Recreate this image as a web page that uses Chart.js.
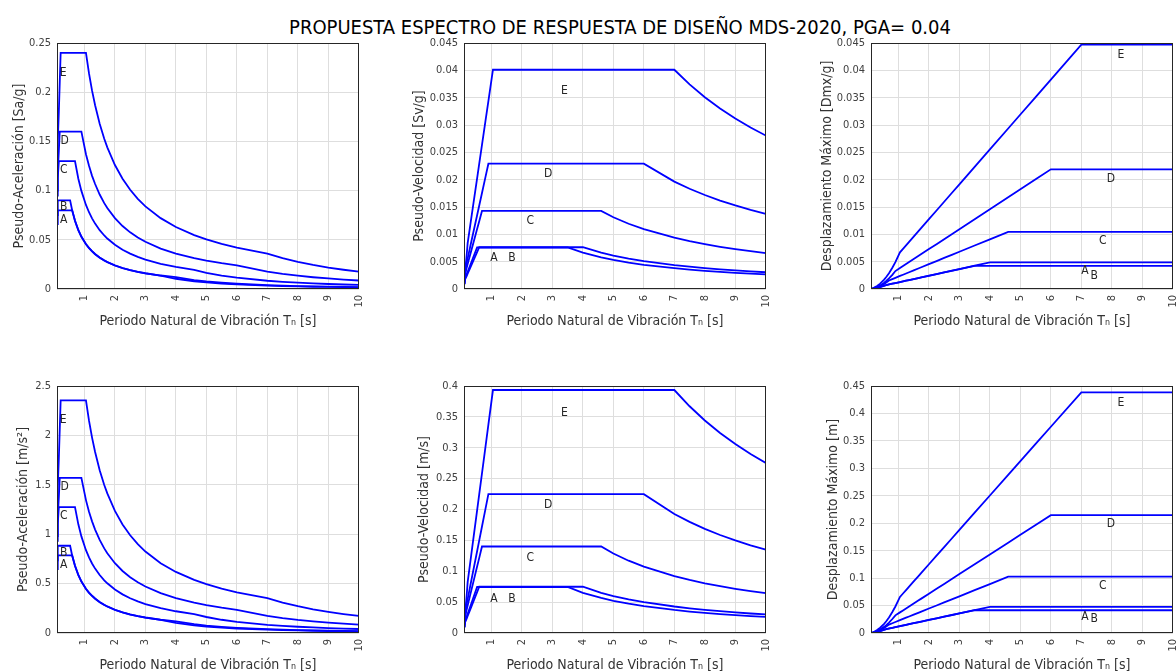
<!DOCTYPE html>
<html>
<head>
<meta charset="utf-8">
<script src="https://cdn.jsdelivr.net/npm/chart.js@4.4.1/dist/chart.umd.min.js"></script>
<style>
  html, body { margin: 0; padding: 0; background: #fff; }
  body { width: 1176px; height: 671px; overflow: hidden; position: relative; }
  canvas { position: absolute; }
  #title {
    position: absolute; left: 0; top: 15px; width: 1240px; text-align: center;
    font-family: 'Liberation Sans Narrow', 'DejaVu Sans Condensed', 'Arial Narrow', Roboto, sans-serif;
    font-size: 20px; color: #000; white-space: nowrap;
  }
</style>
</head>
<body>
<div id="title">PROPUESTA ESPECTRO DE RESPUESTA DE DISEÑO MDS-2020, PGA= 0.04</div>
<script>
// periodos T [s], compartidos por todas las curvas
const periods = [0.1, 0.12, 0.13, 0.16, 0.19, 0.22, 0.3, 0.4, 0.53, 0.6, 0.69, 0.8, 0.9, 1.05, 1.15, 1.25, 1.35, 1.5, 1.65, 1.75, 2, 2.25, 2.5, 2.75, 3, 3.5, 4, 4.6, 5, 5.5, 6, 7, 7.5, 8, 8.5, 9, 9.5, 10]
const soils = ['A', 'B', 'C', 'D', 'E']

// Pseudo-aceleracion [Sa/g]
const sagA = [0.066, 0.08, 0.08, 0.08, 0.08, 0.08, 0.08, 0.08, 0.08, 0.08, 0.0696, 0.06, 0.0533, 0.0457, 0.04174, 0.0384, 0.03556, 0.032, 0.02909, 0.0274, 0.024, 0.02133, 0.0192, 0.01745, 0.016, 0.0137, 0.012, 0.00907, 0.00768, 0.00635, 0.00533, 0.00392, 0.003413, 0.003, 0.002657, 0.00237, 0.002127, 0.00192]
const sagB = [0.075, 0.085, 0.09, 0.09, 0.09, 0.09, 0.09, 0.09, 0.09, 0.0795, 0.0691, 0.0596, 0.053, 0.0454, 0.04148, 0.0382, 0.03533, 0.0318, 0.02891, 0.0273, 0.0239, 0.0212, 0.0191, 0.01735, 0.0159, 0.0136, 0.0104, 0.00789, 0.00668, 0.00552, 0.00464, 0.00341, 0.002968, 0.00261, 0.002311, 0.00206, 0.00185, 0.00167]
const sagC = [0.095, 0.107, 0.1125, 0.13, 0.13, 0.13, 0.13, 0.13, 0.13, 0.13, 0.13, 0.1121, 0.0997, 0.0854, 0.078, 0.0718, 0.06644, 0.0598, 0.05436, 0.0513, 0.0449, 0.03987, 0.0359, 0.03262, 0.0299, 0.0256, 0.0224, 0.0195, 0.0165, 0.0136, 0.0115, 0.0084, 0.007335, 0.00645, 0.005711, 0.0051, 0.004572, 0.00413]
const sagD = [0.1, 0.113, 0.12, 0.14, 0.16, 0.16, 0.16, 0.16, 0.16, 0.16, 0.16, 0.16, 0.16, 0.137, 0.1252, 0.115, 0.1067, 0.096, 0.08727, 0.0823, 0.072, 0.064, 0.0576, 0.05236, 0.048, 0.0411, 0.036, 0.0313, 0.0288, 0.0262, 0.024, 0.0176, 0.01536, 0.0135, 0.01196, 0.0107, 0.009573, 0.00864]
const sagE = [0.12, 0.14, 0.15, 0.18, 0.21, 0.24, 0.24, 0.24, 0.24, 0.24, 0.24, 0.24, 0.24, 0.24, 0.2191, 0.2016, 0.1867, 0.168, 0.1527, 0.144, 0.126, 0.112, 0.1008, 0.09164, 0.084, 0.072, 0.063, 0.0548, 0.0504, 0.0458, 0.042, 0.036, 0.03136, 0.0276, 0.02441, 0.0218, 0.01955, 0.0176]

// Pseudo-velocidad [Sv/g]
const svgA = [0.00105, 0.00153, 0.00166, 0.00204, 0.00242, 0.0028, 0.00382, 0.00509, 0.00675, 0.00764, 0.00764, 0.00764, 0.00764, 0.00764, 0.00764, 0.00764, 0.00764, 0.00764, 0.00764, 0.00764, 0.00764, 0.00764, 0.00764, 0.00764, 0.00764, 0.00764, 0.00764, 0.00664, 0.00611, 0.00556, 0.00509, 0.00437, 0.004074, 0.00382, 0.003595, 0.0034, 0.003217, 0.00306]
const svgB = [0.00119, 0.00163, 0.00186, 0.00229, 0.00272, 0.00315, 0.0043, 0.00573, 0.00759, 0.00759, 0.00759, 0.00759, 0.00759, 0.00759, 0.00759, 0.00759, 0.00759, 0.00759, 0.00759, 0.00759, 0.00759, 0.00759, 0.00759, 0.00759, 0.00759, 0.00759, 0.00664, 0.00578, 0.00531, 0.00483, 0.00443, 0.0038, 0.003543, 0.00332, 0.003126, 0.00295, 0.002797, 0.00266]
const svgC = [0.00151, 0.00204, 0.00233, 0.00331, 0.00393, 0.00455, 0.00621, 0.00828, 0.01097, 0.01241, 0.01428, 0.01428, 0.01428, 0.01428, 0.01428, 0.01428, 0.01428, 0.01428, 0.01428, 0.01428, 0.01428, 0.01428, 0.01428, 0.01428, 0.01428, 0.01428, 0.01428, 0.01428, 0.01313, 0.01194, 0.01095, 0.00938, 0.008756, 0.00821, 0.007726, 0.0073, 0.006913, 0.00657]
const svgD = [0.00159, 0.00216, 0.00248, 0.00357, 0.00484, 0.0056, 0.00764, 0.01019, 0.0135, 0.01528, 0.01757, 0.02037, 0.02292, 0.02292, 0.02292, 0.02292, 0.02292, 0.02292, 0.02292, 0.02292, 0.02292, 0.02292, 0.02292, 0.02292, 0.02292, 0.02292, 0.02292, 0.02292, 0.02292, 0.02292, 0.02292, 0.01964, 0.018335, 0.01719, 0.016178, 0.01528, 0.014475, 0.01375]
const svgE = [0.00191, 0.00267, 0.0031, 0.00458, 0.00635, 0.0084, 0.01146, 0.01528, 0.02024, 0.02292, 0.02636, 0.03056, 0.03438, 0.04011, 0.04011, 0.04011, 0.04011, 0.04011, 0.04011, 0.04011, 0.04011, 0.04011, 0.04011, 0.04011, 0.04011, 0.04011, 0.04011, 0.04011, 0.04011, 0.04011, 0.04011, 0.04011, 0.037433, 0.03509, 0.03303, 0.03119, 0.029553, 0.02807]

// Desplazamiento maximo [Dmx/g]
const sdgA = [0.0000167, 0.0000292, 0.0000343, 0.0000519, 0.0000732, 0.0000981, 0.000182, 0.000324, 0.000569, 0.00073, 0.000839, 0.000973, 0.001094, 0.001277, 0.001398, 0.00152, 0.001642, 0.001824, 0.002006, 0.002128, 0.002432, 0.002736, 0.00304, 0.003344, 0.003648, 0.004256, 0.004864, 0.004864, 0.004864, 0.004864, 0.004864, 0.004864, 0.004864, 0.004864, 0.004864, 0.004864, 0.004864, 0.004864]
const sdgB = [0.0000189, 0.0000311, 0.0000385, 0.0000583, 0.0000823, 0.00011, 0.000205, 0.000365, 0.00064, 0.000725, 0.000834, 0.000966, 0.001087, 0.001268, 0.001389, 0.00151, 0.001631, 0.001812, 0.001993, 0.002114, 0.002416, 0.002718, 0.00302, 0.003322, 0.003624, 0.004228, 0.004228, 0.004228, 0.004228, 0.004228, 0.004228, 0.004228, 0.004228, 0.004228, 0.004228, 0.004228, 0.004228, 0.004228]
const sdgC = [0.000024, 0.000039, 0.000048, 0.0000843, 0.000119, 0.000159, 0.000297, 0.000527, 0.000925, 0.001185, 0.001568, 0.001818, 0.002045, 0.002386, 0.002614, 0.002841, 0.003068, 0.003409, 0.00375, 0.003977, 0.004545, 0.005114, 0.005682, 0.00625, 0.006818, 0.007955, 0.009091, 0.010455, 0.010455, 0.010455, 0.010455, 0.010455, 0.010455, 0.010455, 0.010455, 0.010455, 0.010455, 0.010455]
const sdgD = [0.0000253, 0.0000413, 0.0000513, 0.0000909, 0.000146, 0.000196, 0.000365, 0.000649, 0.001139, 0.001459, 0.00193, 0.002594, 0.003283, 0.00383, 0.004195, 0.00456, 0.004925, 0.005472, 0.006019, 0.006384, 0.007296, 0.008208, 0.00912, 0.010032, 0.010943, 0.012767, 0.014591, 0.01678, 0.018239, 0.020063, 0.021887, 0.021887, 0.021887, 0.021887, 0.021887, 0.021887, 0.021887, 0.021887]
const sdgE = [0.0000304, 0.000051, 0.0000641, 0.000117, 0.000192, 0.000294, 0.000547, 0.000973, 0.001707, 0.002189, 0.002895, 0.003891, 0.004925, 0.006703, 0.007341, 0.00798, 0.008618, 0.009576, 0.010533, 0.011171, 0.012767, 0.014363, 0.015959, 0.017555, 0.019151, 0.022343, 0.025535, 0.029365, 0.031918, 0.03511, 0.038302, 0.044686, 0.044686, 0.044686, 0.044686, 0.044686, 0.044686, 0.044686]

// Pseudo-aceleracion [m/s2]
const saA = [0.647, 0.785, 0.785, 0.785, 0.785, 0.785, 0.785, 0.785, 0.785, 0.785, 0.683, 0.589, 0.523, 0.448, 0.4095, 0.377, 0.3488, 0.314, 0.2854, 0.269, 0.235, 0.2092, 0.188, 0.1712, 0.157, 0.134, 0.118, 0.089, 0.0753, 0.0623, 0.0523, 0.0385, 0.03348, 0.0294, 0.02607, 0.0233, 0.02087, 0.0188]
const saB = [0.736, 0.834, 0.883, 0.883, 0.883, 0.883, 0.883, 0.883, 0.883, 0.78, 0.678, 0.585, 0.52, 0.445, 0.4069, 0.375, 0.3466, 0.312, 0.2836, 0.268, 0.234, 0.208, 0.187, 0.1702, 0.156, 0.133, 0.102, 0.0774, 0.0655, 0.0542, 0.0455, 0.0335, 0.02912, 0.0256, 0.02267, 0.0202, 0.01815, 0.0164]
const saC = [0.932, 1.05, 1.104, 1.275, 1.275, 1.275, 1.275, 1.275, 1.275, 1.275, 1.275, 1.1, 0.978, 0.838, 0.7652, 0.704, 0.6518, 0.587, 0.5333, 0.503, 0.44, 0.3911, 0.352, 0.32, 0.293, 0.251, 0.22, 0.191, 0.162, 0.134, 0.113, 0.0824, 0.07196, 0.0633, 0.05603, 0.05, 0.04485, 0.0405]
const saD = [0.981, 1.11, 1.177, 1.373, 1.57, 1.57, 1.57, 1.57, 1.57, 1.57, 1.57, 1.57, 1.57, 1.345, 1.228, 1.13, 1.0467, 0.942, 0.8561, 0.807, 0.706, 0.6278, 0.565, 0.5137, 0.471, 0.403, 0.353, 0.307, 0.283, 0.257, 0.235, 0.173, 0.1507, 0.132, 0.1173, 0.105, 0.09391, 0.0848]
const saE = [1.177, 1.373, 1.472, 1.766, 2.06, 2.354, 2.354, 2.354, 2.354, 2.354, 2.354, 2.354, 2.354, 2.354, 2.149, 1.978, 1.8315, 1.648, 1.498, 1.413, 1.236, 1.0987, 0.989, 0.899, 0.824, 0.706, 0.618, 0.538, 0.494, 0.449, 0.412, 0.353, 0.3076, 0.271, 0.2395, 0.214, 0.1918, 0.173]

// Pseudo-velocidad [m/s]
const svA = [0.0103, 0.015, 0.0163, 0.02, 0.0237, 0.0275, 0.0375, 0.0499, 0.0662, 0.0749, 0.0749, 0.0749, 0.0749, 0.0749, 0.0749, 0.0749, 0.0749, 0.0749, 0.0749, 0.0749, 0.0749, 0.0749, 0.0749, 0.0749, 0.0749, 0.0749, 0.0749, 0.0651, 0.0599, 0.0545, 0.0499, 0.0429, 0.03997, 0.0375, 0.03527, 0.0334, 0.03156, 0.03]
const svB = [0.0117, 0.016, 0.0182, 0.0225, 0.0267, 0.0309, 0.0422, 0.0562, 0.0745, 0.0745, 0.0745, 0.0745, 0.0745, 0.0745, 0.0745, 0.0745, 0.0745, 0.0745, 0.0745, 0.0745, 0.0745, 0.0745, 0.0745, 0.0745, 0.0745, 0.0745, 0.0651, 0.0567, 0.0521, 0.0474, 0.0435, 0.0373, 0.03476, 0.0326, 0.03067, 0.0289, 0.02744, 0.0261]
const svC = [0.0148, 0.02, 0.0229, 0.0325, 0.0386, 0.0446, 0.0609, 0.0812, 0.1076, 0.1217, 0.1401, 0.1401, 0.1401, 0.1401, 0.1401, 0.1401, 0.1401, 0.1401, 0.1401, 0.1401, 0.1401, 0.1401, 0.1401, 0.1401, 0.1401, 0.1401, 0.1401, 0.1401, 0.1288, 0.1171, 0.1074, 0.092, 0.0859, 0.0805, 0.07579, 0.0716, 0.06782, 0.0645]
const svD = [0.0156, 0.0212, 0.0243, 0.035, 0.0475, 0.0549, 0.0749, 0.1, 0.1324, 0.1499, 0.1724, 0.1998, 0.2248, 0.2248, 0.2248, 0.2248, 0.2248, 0.2248, 0.2248, 0.2248, 0.2248, 0.2248, 0.2248, 0.2248, 0.2248, 0.2248, 0.2248, 0.2248, 0.2248, 0.2248, 0.2248, 0.1927, 0.1799, 0.1686, 0.1587, 0.1499, 0.142, 0.1349]
const svE = [0.0187, 0.0262, 0.0304, 0.0449, 0.0623, 0.0824, 0.1124, 0.1499, 0.1986, 0.2248, 0.2586, 0.2998, 0.3373, 0.3935, 0.3935, 0.3935, 0.3935, 0.3935, 0.3935, 0.3935, 0.3935, 0.3935, 0.3935, 0.3935, 0.3935, 0.3935, 0.3935, 0.3935, 0.3935, 0.3935, 0.3935, 0.3935, 0.3672, 0.3442, 0.324, 0.306, 0.2899, 0.2754]

// Desplazamiento maximo [m]
const sdA = [0.000164, 0.000286, 0.000336, 0.000509, 0.000718, 0.000962, 0.00179, 0.00318, 0.00558, 0.00716, 0.00823, 0.00955, 0.01073, 0.01253, 0.01371, 0.01491, 0.01611, 0.01789, 0.01968, 0.02088, 0.02386, 0.02684, 0.02982, 0.0328, 0.03579, 0.04175, 0.04772, 0.04772, 0.04772, 0.04772, 0.04772, 0.04772, 0.04772, 0.04772, 0.04772, 0.04772, 0.04772, 0.04772]
const sdB = [0.000185, 0.000305, 0.000378, 0.000572, 0.000807, 0.00108, 0.00201, 0.00358, 0.00628, 0.00711, 0.00818, 0.00948, 0.01066, 0.01244, 0.01363, 0.01481, 0.016, 0.01778, 0.01955, 0.02074, 0.0237, 0.02666, 0.02963, 0.03259, 0.03555, 0.04148, 0.04148, 0.04148, 0.04148, 0.04148, 0.04148, 0.04148, 0.04148, 0.04148, 0.04148, 0.04148, 0.04148, 0.04148]
const sdC = [0.000235, 0.000383, 0.000471, 0.000827, 0.00117, 0.00156, 0.00291, 0.00517, 0.00907, 0.01162, 0.01538, 0.01783, 0.02006, 0.02341, 0.02564, 0.02787, 0.0301, 0.03344, 0.03679, 0.03901, 0.04459, 0.05017, 0.05574, 0.06131, 0.06688, 0.07804, 0.08918, 0.10256, 0.10256, 0.10256, 0.10256, 0.10256, 0.10256, 0.10256, 0.10256, 0.10256, 0.10256, 0.10256]
const sdD = [0.000248, 0.000405, 0.000503, 0.000892, 0.00143, 0.00192, 0.00358, 0.00637, 0.01117, 0.01431, 0.01893, 0.02545, 0.03221, 0.03757, 0.04115, 0.04473, 0.04831, 0.05368, 0.05905, 0.06263, 0.07157, 0.08052, 0.08947, 0.09841, 0.10735, 0.12524, 0.14314, 0.16461, 0.17892, 0.19682, 0.21471, 0.21471, 0.21471, 0.21471, 0.21471, 0.21471, 0.21471, 0.21471]
const sdE = [0.000298, 0.0005, 0.000629, 0.00115, 0.00188, 0.00288, 0.00537, 0.00955, 0.01675, 0.02147, 0.0284, 0.03817, 0.04831, 0.06576, 0.07201, 0.07828, 0.08454, 0.09394, 0.10333, 0.10959, 0.12524, 0.1409, 0.15656, 0.17221, 0.18787, 0.21918, 0.2505, 0.28807, 0.31312, 0.34443, 0.37574, 0.43837, 0.43837, 0.43837, 0.43837, 0.43837, 0.43837, 0.43837]

// posicion de las letras A..E (periodo, valor)
const labelT_acc = [0.32, 0.32, 0.32, 0.35, 0.3]
const labelT_vel = [1.08, 1.67, 2.27, 2.86, 3.39]
const labelT_dis = [7.12, 7.42, 7.7, 7.97, 8.3]
const labelV_sag = [0.07, 0.083, 0.121, 0.151, 0.22]
const labelV_svg = [0.0057, 0.0057, 0.0124, 0.0211, 0.0363]
const labelV_sdg = [0.0033, 0.0024, 0.0088, 0.0202, 0.0429]
const labelV_sa = [0.69, 0.81, 1.19, 1.48, 2.16]
const labelV_sv = [0.056, 0.056, 0.122, 0.207, 0.356]
const labelV_sd = [0.029, 0.0255, 0.085, 0.198, 0.42]

const xTicks = [1, 2, 3, 4, 5, 6, 7, 8, 9, 10]
const xTitle = 'Periodo Natural de Vibración Tₙ [s]'

const FONT = "'Liberation Sans Narrow', 'DejaVu Sans Condensed', 'Arial Narrow', Roboto, sans-serif"
const BLUE = '#0000ff'

const panels = [
	{ base: 0, left: 57, top: 43, h: 246, titleX: 19, yTitle: 'Pseudo-Aceleración [Sa/g]', yMax: 0.25, yStep: 0.05,
		series: [sagA, sagB, sagC, sagD, sagE], labT: labelT_acc, labV: labelV_sag },
	{ base: 400, left: 464, top: 43, h: 246, titleX: 419, yTitle: 'Pseudo-Velocidad [Sv/g]', yMax: 0.045, yStep: 0.005,
		series: [svgA, svgB, svgC, svgD, svgE], labT: labelT_vel, labV: labelV_svg },
	{ base: 800, left: 871, top: 43, h: 246, titleX: 827, yTitle: 'Desplazamiento Máximo [Dmx/g]', yMax: 0.045, yStep: 0.005,
		series: [sdgA, sdgB, sdgC, sdgD, sdgE], labT: labelT_dis, labV: labelV_sdg },
	{ base: 0, left: 57, top: 386, h: 247, titleX: 23, yTitle: 'Pseudo-Aceleración [m/s²]', yMax: 2.5, yStep: 0.5,
		series: [saA, saB, saC, saD, saE], labT: labelT_acc, labV: labelV_sa },
	{ base: 400, left: 464, top: 386, h: 247, titleX: 424, yTitle: 'Pseudo-Velocidad [m/s]', yMax: 0.4, yStep: 0.05,
		series: [svA, svB, svC, svD, svE], labT: labelT_vel, labV: labelV_sv },
	{ base: 800, left: 871, top: 386, h: 247, titleX: 833, yTitle: 'Desplazamiento Máximo [m]', yMax: 0.45, yStep: 0.05,
		series: [sdA, sdB, sdC, sdD, sdE], labT: labelT_dis, labV: labelV_sd },
]

const PLOT_W = 309
const PAD_TOP = 13
const PAD_RIGHT = 12
const X_AXIS_H = 44
const AXIS_TITLE_SIZE = 14

// marco completo del eje y letras de cada suelo
const boxAndLetters = {
	id: 'boxAndLetters',
	afterDraw(chart, args, opts) {
		const { ctx, chartArea: a, scales } = chart
		ctx.save()
		ctx.strokeStyle = '#262626'
		ctx.lineWidth = 1
		ctx.strokeRect(Math.round(a.left) + 0.5, Math.round(a.top) + 0.5, Math.round(a.right - a.left) - 1, Math.round(a.bottom - a.top) - 1)
		ctx.fillStyle = '#262626'
		ctx.font = '12px ' + FONT
		ctx.textAlign = 'center'
		ctx.textBaseline = 'middle'
		soils.forEach((s, i) => {
			ctx.fillText(s, scales.x.getPixelForValue(opts.t[i]), scales.y.getPixelForValue(opts.v[i]))
		})
		ctx.restore()
	},
}

panels.forEach(p => {
	const canvas = document.createElement('canvas')
	const w = p.left - p.base + PLOT_W + PAD_RIGHT
	const h = PAD_TOP + p.h + X_AXIS_H
	canvas.width = w
	canvas.height = h
	canvas.style.left = p.base + 'px'
	canvas.style.top = (p.top - PAD_TOP) + 'px'
	canvas.style.width = w + 'px'
	canvas.style.height = h + 'px'
	document.body.appendChild(canvas)

	const datasets = p.series.map((vals, i) => ({
		label: soils[i],
		data: periods.map((t, j) => ({ x: t, y: vals[j] })),
		borderColor: BLUE,
		borderWidth: 1.8,
		pointRadius: 0,
		fill: false,
		tension: 0,
	}))

	const half = AXIS_TITLE_SIZE * 1.2 / 2

	new Chart(canvas, {
		type: 'line',
		data: { datasets },
		plugins: [boxAndLetters],
		options: {
			responsive: false,
			animation: false,
			devicePixelRatio: 1,
			layout: { padding: { top: PAD_TOP, right: PAD_RIGHT, left: 0, bottom: 0 } },
			plugins: {
				legend: { display: false },
				tooltip: { enabled: false },
				boxAndLetters: { t: p.labT, v: p.labV },
			},
			scales: {
				x: {
					type: 'linear',
					min: 0.1,
					max: 10,
					afterBuildTicks: s => { s.ticks = xTicks.map(v => ({ value: v })) },
					afterFit: s => { s.height = X_AXIS_H },
					grid: { color: '#dedede', drawTicks: false },
					border: { display: false },
					ticks: { minRotation: 90, maxRotation: 90, padding: 6, color: '#404040', font: { family: FONT, size: 11 } },
					title: { display: true, text: xTitle, color: '#333', font: { family: FONT, size: AXIS_TITLE_SIZE }, padding: { top: 0, bottom: X_AXIS_H - 32 - half } },
				},
				y: {
					min: 0,
					max: p.yMax,
					afterFit: s => { s.width = p.left - p.base },
					grid: { color: '#dedede', drawTicks: false },
					border: { display: false },
					ticks: {
						stepSize: p.yStep,
						padding: 6,
						color: '#404040',
						font: { family: FONT, size: 11 },
						callback: v => String(+v.toFixed(4)),
					},
					title: { display: true, text: p.yTitle, color: '#333', font: { family: FONT, size: AXIS_TITLE_SIZE }, padding: { top: p.titleX - p.base - half, bottom: 0 } },
				},
			},
		},
	})
})
</script>
</body>
</html>
